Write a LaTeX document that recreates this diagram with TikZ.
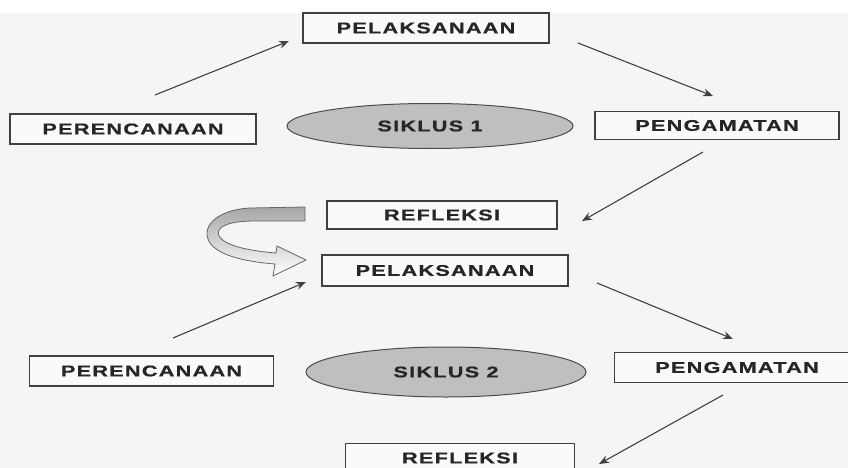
\documentclass[tikz,border=0pt]{standalone}
\usepackage{fontspec}
\setmainfont{Liberation Sans}
\newfontfamily\boxfont[FakeStretch=1.4,LetterSpace=8,FakeBold=0.8]{Liberation Sans Bold}
\usetikzlibrary{arrows.meta,shapes.geometric}
\begin{document}
\begin{tikzpicture}[x=1pt,y=-1pt,
  lbl/.style={font=\boxfont\fontsize{15.5}{17}\selectfont, text=black!85},
  box/.style={lbl, draw=black!75, line width=1.3pt, fill=black!2, inner sep=0pt},
  oval/.style={lbl, ellipse, draw=black!70, line width=1pt, fill=black!25, inner sep=0pt},
  arr/.style={draw=black!75, line width=1.1pt, -{Stealth[length=10pt,width=8pt]}},
  curvy/.style={draw=black!60, line width=0.8pt, top color=black!35, bottom color=white}]
\useasboundingbox (0,0) rectangle (848,468);
\clip (0,0) rectangle (848,468);
\fill[black!4] (0,0) rectangle (848,468);
\fill[white] (0,0) rectangle (848,13);

% cycle 1
\node[box, minimum width=246pt, minimum height=30pt] (p1) at (426,28) {PELAKSANAAN};
\node[box, minimum width=246pt, minimum height=30pt] (n1) at (133,129) {PERENCANAAN};
\node[oval, minimum width=286pt, minimum height=45pt] (e1) at (430,126) {SIKLUS 1};
\node[box, minimum width=244pt, minimum height=28pt] (g1) at (717,125.5) {PENGAMATAN};
\node[box, minimum width=230pt, minimum height=28pt] (f1) at (442,215) {REFLEKSI};

% cycle 2
\node[box, minimum width=246pt, minimum height=31pt] (p2) at (445,270.5) {PELAKSANAAN};
\node[box, minimum width=244pt, minimum height=30pt] (n2) at (151.5,371) {PERENCANAAN};
\node[oval, minimum width=280pt, minimum height=50pt] (e2) at (446,372) {SIKLUS 2};
\node[lbl, minimum width=245pt, minimum height=29pt, inner sep=0pt, fill=black!2] (g2) at (737,367.5) {PENGAMATAN};
\draw[draw=black!75, line width=1.3pt] (g2.north east) -- (g2.north west) -- (g2.south west) -- (g2.south east);
\node[box, minimum width=229pt, minimum height=29pt] (f2) at (460,458) {REFLEKSI};

% arrow end points
\coordinate (a1s) at (155,95);  \coordinate (a1e) at (289,41);
\coordinate (a2s) at (578,43);  \coordinate (a2e) at (713,96);
\coordinate (a3s) at (703,152); \coordinate (a3e) at (582,221);
\coordinate (a4s) at (173,338); \coordinate (a4e) at (306,282);
\coordinate (a5s) at (597,283); \coordinate (a5e) at (733,339);
\coordinate (a6s) at (723,395); \coordinate (a6e) at (599,464);
\draw[arr] (a1s) -- (a1e);
\draw[arr] (a2s) -- (a2e);
\draw[arr] (a3s) -- (a3e);
\draw[arr] (a4s) -- (a4e);
\draw[arr] (a5s) -- (a5e);
\draw[arr] (a6s) -- (a6e);

% curved block arrow from REFLEKSI to PELAKSANAAN
\draw[curvy] (305,207) -- (250,208) .. controls (215,210) and (200,228) .. (210,243)
  .. controls (220,257) and (250,262) .. (275,264) -- (273,276) -- (306,260) -- (277,246)
  -- (276,253) .. controls (250,251) and (225,246) .. (219,236)
  .. controls (215,226) and (230,221) .. (255,221) -- (305,221) -- cycle;
\end{tikzpicture}
\end{document}
